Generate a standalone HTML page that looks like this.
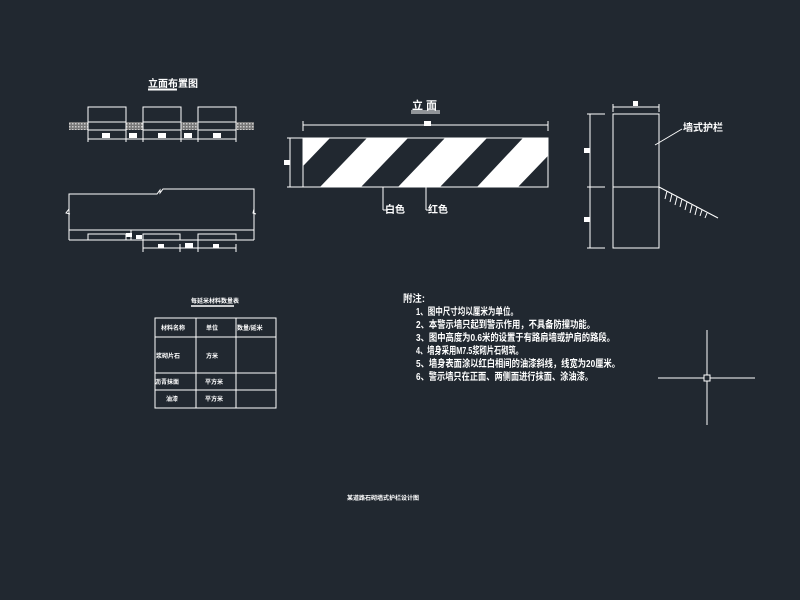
<!DOCTYPE html>
<html><head><meta charset="utf-8"><style>
html,body{margin:0;padding:0;background:#212830;}
svg{display:block}
text{font-family:"Liberation Sans","Noto Sans CJK SC",sans-serif;fill:#fff;font-weight:bold}
</style></head><body>
<svg width="800" height="600" viewBox="0 0 800 600" xmlns="http://www.w3.org/2000/svg">
<defs>
<pattern id="h" width="3" height="3" patternUnits="userSpaceOnUse"><rect width="3" height="3" fill="#777"/><rect width="1.5" height="1.5" fill="#ccc"/></pattern>
<clipPath id="c"><rect x="303" y="138" width="245" height="49"/></clipPath>
</defs>
<g stroke="#fff" stroke-width="1" fill="none">
<rect x="69" y="122" width="185" height="8" fill="url(#h)" stroke="none"/>
<rect x="88" y="107" width="38" height="23" fill="#212830"/>
<rect x="143" y="107" width="38" height="23" fill="#212830"/>
<rect x="198" y="107" width="38" height="23" fill="#212830"/>
<line x1="88" y1="122" x2="126" y2="122"/><line x1="143" y1="122" x2="181" y2="122"/><line x1="198" y1="122" x2="236" y2="122"/>
<line x1="88" y1="139" x2="236" y2="139"/>
<path d="M88 130V142M126 130V142M143 130V142M181 130V142M198 130V142M236 130V142"/>
<line x1="148" y1="89.5" x2="177" y2="89.5" stroke-width="2"/>
<path d="M69 240V194H157l3-4v3l3-4h91V240"/>
<path d="M69 209l-3 4 4 1M254 209l-1 4 3 1"/>
<line x1="69" y1="230" x2="254" y2="230"/>
<line x1="69" y1="240" x2="254" y2="240"/>
<path d="M88 240V234H126V240M143 250V234H180V240M198 250V234H236V240M131 240V230"/>
<line x1="143" y1="248" x2="236" y2="248"/>
<path d="M143 244V252M180 244V252M198 244V252M236 244V252"/>
<line x1="303" y1="125" x2="548" y2="125"/>
<path d="M303 121V131M548 121V131"/>
<line x1="290" y1="138" x2="290" y2="187"/>
<path d="M287 138H303M287 187H303"/>
<rect x="303" y="138" width="245" height="49"/>
<line x1="383" y1="187" x2="383" y2="210"/><line x1="383" y1="210" x2="388" y2="210"/>
<line x1="426" y1="187" x2="426" y2="210"/><line x1="426" y1="210" x2="431" y2="210"/>
<line x1="411" y1="111" x2="440" y2="111"/><line x1="411" y1="113" x2="440" y2="113"/>
<rect x="613" y="114" width="46" height="134"/>
<line x1="613" y1="187" x2="659" y2="187"/>
<line x1="613" y1="107" x2="659" y2="107"/><path d="M613 104V112M659 104V112"/>
<line x1="590" y1="114" x2="590" y2="248"/>
<path d="M587 114H605M587 187H605M587 248H605"/>
<line x1="655" y1="145" x2="682" y2="129"/>
<line x1="659" y1="187" x2="718" y2="218"/>
<path d="M667 191l-2 8M672 194l-2 8M677 197l-2 8M682 199l-2 8M687 202l-2 8M692 205l-2 8M697 207l-2 8M702 210l-2 6M707 213l-2 5"/>
<rect x="155" y="318" width="121" height="90"/>
<path d="M155 337H276M155 373H276M155 390H276M196 318V408M236 318V408"/>
<line x1="191" y1="306" x2="234" y2="306" stroke-width="1.5"/>
<line x1="658" y1="378" x2="755" y2="378"/>
<line x1="707" y1="330" x2="707" y2="425"/>
<rect x="704" y="375" width="6" height="6" fill="#212830"/>
</g>
<g clip-path="url(#c)" fill="#fff">
<polygon points="289,138 330,138 283,187 242,187"/>
<polygon points="367,138 408,138 361,187 320,187"/>
<polygon points="445,138 487,138 440,187 398,187"/>
<polygon points="523,138 565,138 518,187 477,187"/>
</g>
<g fill="#fff">
<rect x="102" y="133" width="8" height="5"/><rect x="129" y="133" width="8" height="5"/><rect x="158" y="133" width="8" height="5"/><rect x="184" y="133" width="8" height="5"/><rect x="213" y="133" width="8" height="5"/>
<rect x="126" y="233" width="6" height="4"/><rect x="136" y="235" width="6" height="4"/>
<rect x="158" y="244" width="6" height="4"/><rect x="185" y="243" width="8" height="5"/><rect x="213" y="244" width="6" height="4"/>
<rect x="424" y="121" width="7" height="5"/>
<rect x="284" y="160" width="6" height="5"/>
<rect x="633" y="101" width="5" height="5"/>
<rect x="584" y="148" width="6" height="5"/><rect x="584" y="217" width="6" height="5"/>
</g>
<text x="148" y="87" font-size="10">立面布置图</text>
<text x="412" y="109" font-size="11">立 面</text>
<text x="385" y="213" font-size="10">白色</text>
<text x="428" y="213" font-size="10">红色</text>
<text x="683" y="131" font-size="10">墙式护栏</text>
<text x="191" y="303" font-size="6">每延米材料数量表</text>
<g font-size="6">
<text x="161" y="330">材料名称</text><text x="206" y="330">单位</text><text x="237" y="330">数量/延米</text>
<text x="156" y="358">浆砌片石</text><text x="206" y="358">方米</text>
<text x="155" y="384">沥青抹面</text><text x="205" y="384">平方米</text>
<text x="166" y="401">油漆</text><text x="205" y="401">平方米</text>
</g>
<g font-size="10">
<text x="403" y="302" textLength="22" lengthAdjust="spacingAndGlyphs">附注:</text>
<text x="416" y="315" textLength="102" lengthAdjust="spacingAndGlyphs">1、图中尺寸均以厘米为单位。</text>
<text x="416" y="328" textLength="179" lengthAdjust="spacingAndGlyphs">2、本警示墙只起到警示作用，不具备防撞功能。</text>
<text x="416" y="341" textLength="199" lengthAdjust="spacingAndGlyphs">3、图中高度为0.6米的设置于有路肩墙或护肩的路段。</text>
<text x="416" y="354" textLength="107" lengthAdjust="spacingAndGlyphs">4、墙身采用M7.5浆砌片石砌筑。</text>
<text x="416" y="367" textLength="204" lengthAdjust="spacingAndGlyphs">5、墙身表面涂以红白相间的油漆斜线，线宽为20厘米。</text>
<text x="416" y="380" textLength="177" lengthAdjust="spacingAndGlyphs">6、警示墙只在正面、两侧面进行抹面、涂油漆。</text>
</g>
<text x="347" y="500" font-size="6">某道路石砌墙式护栏设计图</text>
</svg>
</body></html>
